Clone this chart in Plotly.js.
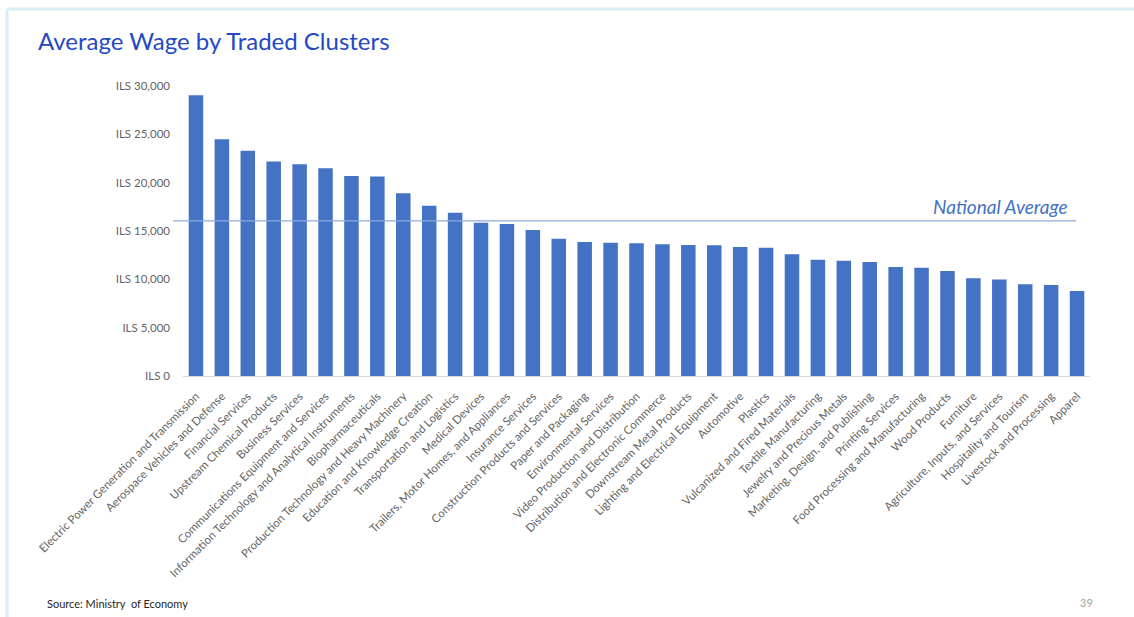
<!DOCTYPE html>
<html>
<head>
<meta charset="utf-8">
<script src="https://cdn.plot.ly/plotly-3.0.1.min.js"></script>
<style>html,body{margin:0;padding:0;background:#fff;}#chart{width:1134px;height:617px;}</style>
</head>
<body>
<div id="chart"></div>
<script>
const clusters = [
  "Electric Power Generation and Transmission",
  "Aerospace Vehicles and Defense",
  "Financial Services",
  "Upstream Chemical Products",
  "Business Services",
  "Communications Equipment and Services",
  "Information Technology and Analytical Instruments",
  "Biopharmaceuticals",
  "Production Technology and Heavy Machinery",
  "Education and Knowledge Creation",
  "Transportation and Logistics",
  "Medical Devices",
  "Trailers, Motor Homes, and Appliances",
  "Insurance Services",
  "Construction Products and Services",
  "Paper and Packaging",
  "Environmental Services",
  "Video Production and Distribution",
  "Distribution and Electronic Commerce",
  "Downstream Metal Products",
  "Lighting and Electrical Equipment",
  "Automotive",
  "Plastics",
  "Vulcanized and Fired Materials",
  "Textile Manufacturing",
  "Jewelry and Precious Metals",
  "Marketing, Design, and Publishing",
  "Printing Services",
  "Food Processing and Manufacturing",
  "Wood Products",
  "Furniture",
  "Agriculture, Inputs, and Services",
  "Hospitality and Tourism",
  "Livestock and Processing",
  "Apparel"
];
const avgWage = [
  29050, 24480, 23300, 22200, 21900, 21500, 20700, 20650, 18900, 17600,
  16900, 15860, 15720, 15100, 14200, 13860, 13790, 13720, 13620, 13550,
  13530, 13340, 13280, 12590, 12030, 11930, 11790, 11280, 11200, 10860,
  10100, 9970, 9480, 9410, 8790
];
const nationalAverage = 16050;
const yTicks = [0, 5000, 10000, 15000, 20000, 25000, 30000];

const W = 1134, H = 617;
const mL = 183, mR = 44, mT = 86, mB = 241;
const pw = W - mL - mR, ph = H - mT - mB;
const px = x => (x - mL) / pw;
const py = y => (H - mB - y) / ph;

const trace = {
  type: 'bar',
  x: clusters,
  y: avgWage,
  marker: {color: '#4472C4', line: {width: 0}},
  hoverinfo: 'x+y'
};

const layout = {
  width: W, height: H,
  margin: {l: mL, r: mR, t: mT, b: mB, pad: 0},
  paper_bgcolor: '#ffffff',
  plot_bgcolor: '#ffffff',
  showlegend: false,
  bargap: 0.44,
  font: {family: 'Lato, "Open Sans", sans-serif', color: '#595959'},
  title: {
    text: 'Average Wage by Traded Clusters',
    x: 38 / W, xanchor: 'left', xref: 'container',
    y: 1 - 42 / H, yanchor: 'middle', yref: 'container',
    font: {family: 'Lato, "Open Sans", sans-serif', size: 24, color: '#2549C4'}
  },
  xaxis: {
    type: 'category',
    tickangle: -45,
    tickfont: {size: 11.5, color: '#636363'},
    showgrid: false,
    zeroline: false,
    showline: true,
    linecolor: '#D9D9D9',
    linewidth: 1,
    ticks: '',
    ticklabelstandoff: 8,
    automargin: false
  },
  yaxis: {
    range: [0, 30000],
    tickvals: yTicks,
    ticktext: yTicks.map(v => 'ILS ' + v.toLocaleString('en-US')),
    tickfont: {size: 11.5, color: '#636363'},
    showgrid: false,
    zeroline: false,
    showline: false,
    ticks: '',
    ticklabelstandoff: 12,
    automargin: false
  },
  shapes: [
    {type: 'line', xref: 'paper', yref: 'y', x0: px(173), x1: px(1076),
     y0: nationalAverage, y1: nationalAverage, line: {color: '#8FAADC', width: 1.3}},
    {type: 'line', xref: 'paper', yref: 'paper', x0: px(7), x1: px(W),
     y0: py(9), y1: py(9), line: {color: '#DAEEF6', width: 3}},
    {type: 'line', xref: 'paper', yref: 'paper', x0: px(7), x1: px(7),
     y0: py(9), y1: py(H), line: {color: '#DAEEF6', width: 3}}
  ],
  annotations: [
    {text: 'National Average', xref: 'paper', yref: 'paper', x: px(1070), y: py(206),
     xanchor: 'right', yanchor: 'middle', showarrow: false,
     font: {size: 19, color: '#4472C4', family: 'Lato, "Open Sans", sans-serif', style: 'italic'}},
    {text: 'Source: Ministry  of Economy', xref: 'paper', yref: 'paper', x: px(45), y: py(603),
     xanchor: 'left', yanchor: 'middle', showarrow: false,
     font: {size: 11, color: '#262626'}},
    {text: '39', xref: 'paper', yref: 'paper', x: px(1086), y: py(602),
     xanchor: 'center', yanchor: 'middle', showarrow: false,
     font: {size: 11, color: '#A6A6A6'}}
  ]
};

Plotly.newPlot('chart', [trace], layout, {displayModeBar: false, staticPlot: true});
</script>
</body>
</html>
